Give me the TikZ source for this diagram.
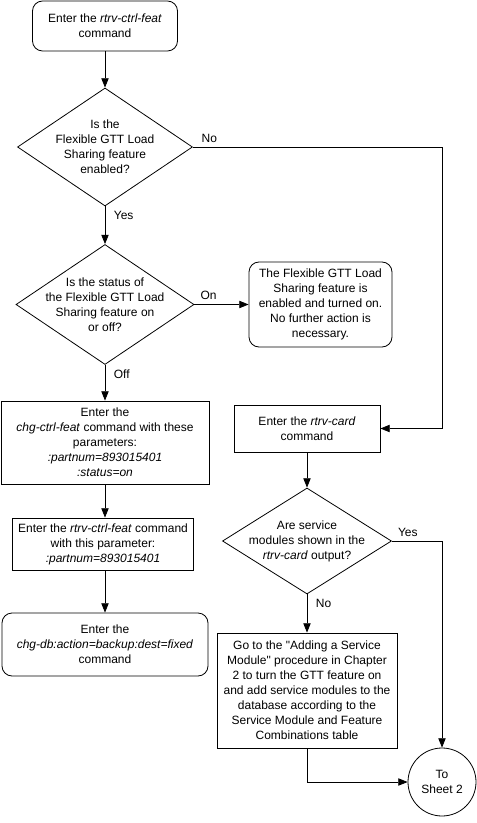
\documentclass[tikz,border=0pt]{standalone}
\usepackage{fontspec}
\setmainfont{Liberation Sans}[Ligatures=TeXOff]
\usetikzlibrary{shapes.geometric,arrows.meta}

\begin{document}
\begin{tikzpicture}[x=0.75pt,y=-0.75pt,->,>={Triangle[length=7pt,width=5.5pt]},line width=0.6pt,font=\fontsize{9}{11.25}\selectfont,every node/.style={align=center},box/.style={draw,rectangle,inner sep=0pt},term/.style={box,rounded corners=7.5pt},decision/.style={draw,diamond,shape aspect=1.5,inner sep=-5pt},sheet/.style={draw,circle,inner sep=0pt,minimum size=51pt}]
\useasboundingbox (0,0) rectangle (477,823);
\node[term, minimum width=108.75pt, minimum height=37.5pt] (start) at (105,26) {Enter the \textit{rtrv-ctrl-feat}\\command};
\node[decision, minimum width=131.25pt, minimum height=88.5pt] (enabled) at (105,147) {Is the\\Flexible GTT Load\\Sharing feature\\enabled?};
\node[decision, minimum width=133.5pt, minimum height=90pt] (status) at (105,304.5) {Is the status of\\the Flexible GTT Load\\Sharing feature on\\or off?};
\node[term, minimum width=107.25pt, minimum height=63.75pt] (turnedon) at (320.5,304.5) {The Flexible GTT Load\\Sharing feature is\\enabled and turned on.\\No further action is\\necessary.};
\node[box, minimum width=156pt, minimum height=62.25pt] (chgctrl) at (105,442.5) {Enter the\\\textit{chg-ctrl-feat} command with these\\parameters:\\\textit{:partnum=893015401}\\\textit{:status=on}};
\node[box, minimum width=135.75pt, minimum height=39pt] (rtrvfeat) at (103,544) {Enter the \textit{rtrv-ctrl-feat} command\\with this parameter:\\\textit{:partnum=893015401}};
\node[term, minimum width=154.5pt, minimum height=47.25pt] (chgdb) at (105,644.5) {Enter the\\\textit{chg-db:action=backup:dest=fixed}\\command};
\node[box, minimum width=109.5pt, minimum height=35.25pt] (rtrvcard) at (307,428.5) {Enter the \textit{rtrv-card}\\command};
\node[decision, minimum width=126.75pt, minimum height=79.5pt] (shown) at (307,541) {Are service\\modules shown in the\\\textit{rtrv-card} output?};
\node[box, minimum width=135pt, minimum height=86.25pt] (addmodule) at (307,690.5) {Go to the "Adding a Service\\Module" procedure in Chapter\\2 to turn the GTT feature on\\and add service modules to the\\database according to the\\Service Module and Feature\\Combinations table};
\node[sheet] (tosheet) at (442,782) {To\\Sheet 2};
\coordinate (nocorner) at (442,147);
\path (start) edge (enabled);
\path (enabled) edge node[pos=0, below right, xshift=3pt] {Yes} (status);
\path (status) edge node[pos=0, above right, xshift=1pt] {On} (turnedon);
\path (status) edge node[pos=0, below right, xshift=3pt] {Off} (chgctrl);
\path (chgctrl) edge (rtrvfeat.north -| chgctrl.south);
\path (rtrvfeat.south -| chgdb.north) edge (chgdb);
\path (rtrvcard) edge (shown);
\path (shown) edge node[pos=0, below right, xshift=3pt] {No} (addmodule);
\draw[->] (enabled.east) -- node[pos=0, above right, xshift=3pt] {No} (nocorner) |- (rtrvcard.east);
\draw[->] (shown.east) -| node[pos=0, above right, xshift=1pt] {Yes} (tosheet.north);
\draw[->] (addmodule.south) |- (tosheet.west);
\end{tikzpicture}
\end{document}
